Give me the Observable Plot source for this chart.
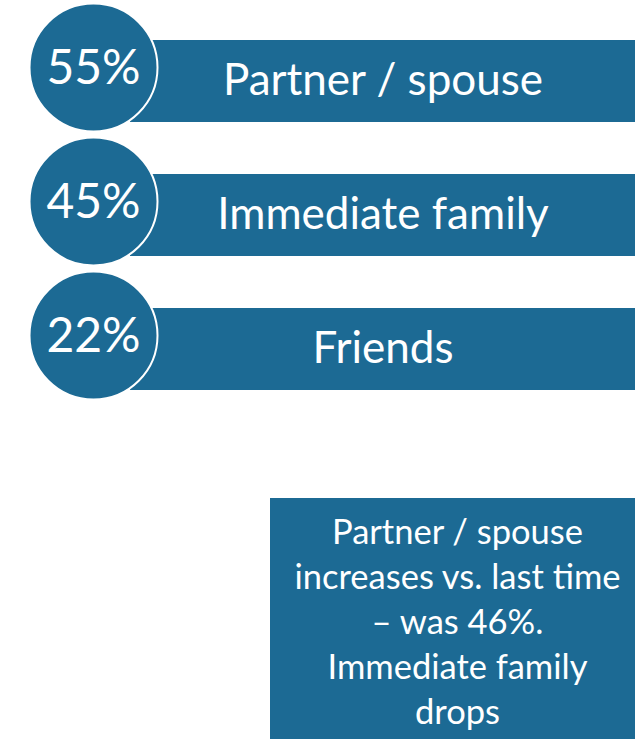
<!DOCTYPE html>
<html>
<head>
<meta charset="utf-8">
<script src="https://cdn.jsdelivr.net/npm/d3@7"></script>
<script src="https://cdn.jsdelivr.net/npm/@observablehq/plot@0.6"></script>
<style>
  html, body { margin: 0; padding: 0; background: #fff; width: 635px; overflow: hidden; }
  #chart svg { display: block; }
  #note {
    position: absolute; left: 270px; top: 498px; width: 375px; height: 241px;
    background: #1c6a94; color: #fff; box-sizing: border-box;
    font-family: Lato, sans-serif; font-size: 34.5px; line-height: 45px;
    text-align: center; padding-top: 10px; padding-left: 0px; white-space: nowrap;
  }
</style>
</head>
<body>
<div id="chart"></div>
<div id="note"></div>
<script>
const categories = ["Partner / spouse", "Immediate family", "Friends"];
const percentages = [55, 45, 22];
const noteLines = ["Partner / spouse", "increases vs. last time", "\u2013 was 46%.", "Immediate family", "drops"];

const blue = "#1c6a94";
const data = categories.map((c, i) => ({category: c, value: percentages[i]}));

const chart = Plot.plot({
  width: 635,
  height: 460,
  marginLeft: 130,
  marginRight: 0,
  marginTop: 40,
  marginBottom: 69,
  x: {domain: [0, 1], axis: null},
  y: {type: "band", domain: categories, paddingInner: 0.388, paddingOuter: 0, axis: null},
  marks: [
    Plot.barX(data, {y: "category", x1: 0, x2: 1, fill: blue}),
    Plot.text(data, {y: "category", x: 0.5, text: "category", fill: "white",
      fontSize: 44, fontFamily: "Lato", dy: -1}),
    Plot.dot(data, {y: "category", x: 0, dx: -37, dy: -14, r: 64, fill: blue,
      stroke: "white", strokeWidth: 2}),
    Plot.text(data, {y: "category", x: 0, dx: -37, dy: -13, text: d => d.value + "%",
      fill: "white", fontSize: 48, fontFamily: "Lato"})
  ]
});
document.getElementById("chart").append(chart);
document.getElementById("note").innerHTML = noteLines.map(s => `<div>${s}</div>`).join("");
</script>
</body>
</html>
